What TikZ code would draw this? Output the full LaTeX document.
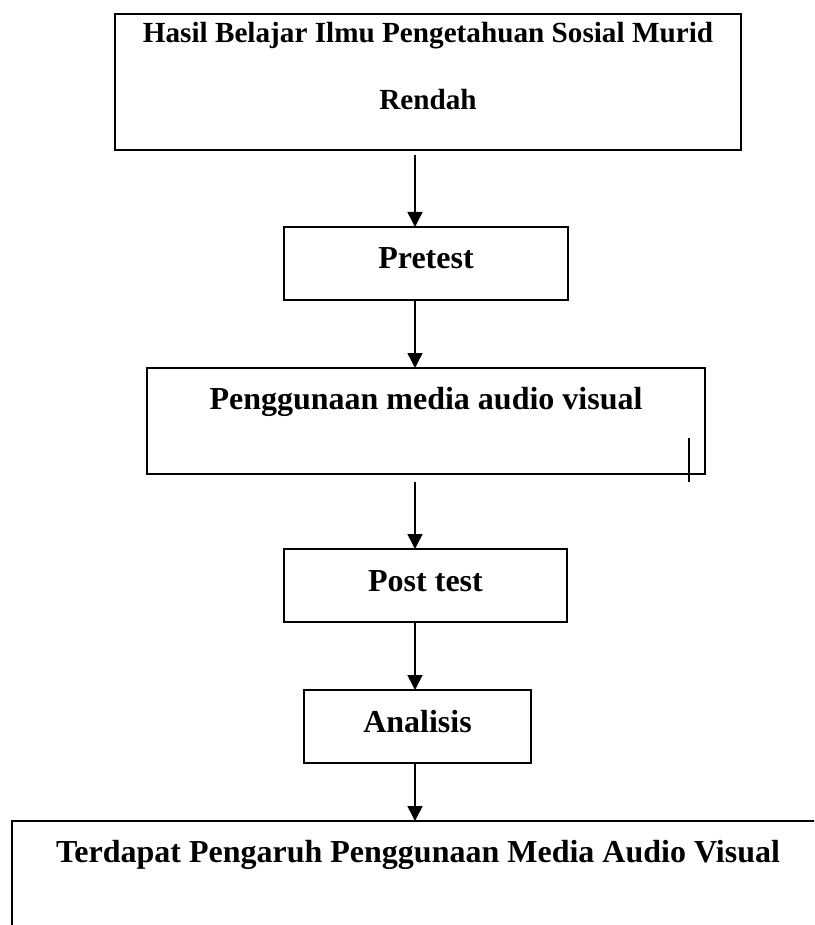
\documentclass[tikz,border=0pt]{standalone}
\usepackage{fontspec}
\setmainfont{Liberation Serif}
\usetikzlibrary{arrows.meta}
\begin{document}
\begin{tikzpicture}[x=0.5pt,y=-0.5pt,>={Triangle[length=7.5pt,width=7.5pt]},
	kotak/.style={draw,line width=0.9pt,inner xsep=0pt,inner ysep=0pt,outer sep=0pt,font=\fontsize{16}{19}\selectfont\bfseries},
	panah/.style={->,line width=0.75pt}]
	\clip (0,0) rectangle (814,925);
	\coordinate (sumbu) at (415,0);
	\node[kotak,minimum width=313pt,text width=310pt,align=flush center,text height=14.5pt,text depth=53.5pt,
		font=\fontsize{14.6}{33.5}\selectfont\bfseries] (hasil) at (428,82) {Hasil Belajar Ilmu Pengetahuan Sosial Murid\\Rendah};
	\node[kotak,minimum width=142pt,text height=20.5pt,text depth=16pt] (pretest) at (426,263.5) {Pretest};
	\node[kotak,minimum width=279pt,text height=20.5pt,text depth=32.5pt] (media) at (426,421) {Penggunaan media audio visual};
	\node[kotak,minimum width=141.5pt,text height=21pt,text depth=15.5pt] (post) at (425.5,585.5) {Post test};
	\node[kotak,minimum width=113.5pt,text height=21pt,text depth=15.5pt] (analisis) at (417.5,726.5) {Analisis};
	\node[kotak,minimum width=406pt,text height=20.5pt,text depth=49.5pt] (pengaruh) at (418,891) {Terdapat Pengaruh Penggunaan Media Audio Visual};
	% panah antar kotak
	\draw[panah,shorten <=2.5pt] (hasil.south -| sumbu) -- (pretest.north -| sumbu);
	\draw[panah] (pretest.south -| sumbu) -- (media.north -| sumbu);
	\draw[panah,shorten <=4pt] (media.south -| sumbu) -- (post.north -| sumbu);
	\draw[panah] (post.south -| sumbu) -- (analisis.north -| sumbu);
	\draw[panah] (analisis.south -| sumbu) -- (pengaruh.north -| sumbu);
	\draw[line width=0.6pt] (689,438) -- (689,482);
\end{tikzpicture}
\end{document}
